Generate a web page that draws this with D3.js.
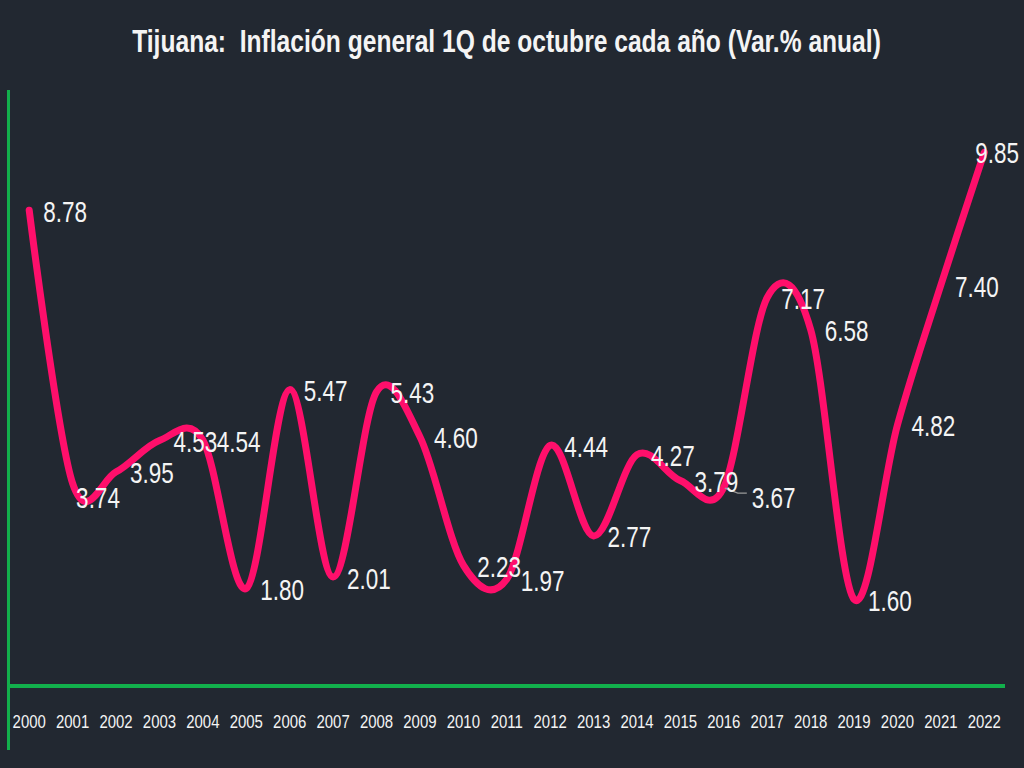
<!DOCTYPE html>
<html>
<head>
<meta charset="utf-8">
<script src="https://cdn.jsdelivr.net/npm/d3@7"></script>
<style>
  html, body { margin: 0; padding: 0; background: #222831; }
  svg { display: block; }
  text { font-family: "Liberation Sans", Arial, sans-serif; fill: #f4f4f4; white-space: pre; }
</style>
</head>
<body>
<svg id="chart" width="1024" height="768"></svg>
<script>
const years = ["2000","2001","2002","2003","2004","2005","2006","2007","2008","2009","2010","2011",
               "2012","2013","2014","2015","2016","2017","2018","2019","2020","2021","2022"];
const inflation = [8.78, 3.74, 3.95, 4.53, 4.54, 1.80, 5.47, 2.01, 5.43, 4.60, 2.23, 1.97,
                   4.44, 2.77, 4.27, 3.79, 3.67, 7.17, 6.58, 1.60, 4.82, 7.40, 9.85];
const labelText = inflation.map(v => v.toFixed(2));
const titleText = "Tijuana:  Inflación general 1Q de octubre cada año (Var.% anual)";
const yDomain = [0, 11];

const W = 1024, H = 768;
const svg = d3.select("#chart");
svg.append("rect").attr("width", W).attr("height", H).attr("fill", "#222831");

const x = d3.scaleBand().domain(years).range([7.5, 1006]).padding(0);
const y = d3.scaleLinear().domain(yDomain).range([686, 90]);
const cx = d => x(d) + x.bandwidth() / 2;

// Title, horizontally condensed to the original's width
const title = svg.append("text")
  .attr("font-size", 32).attr("font-weight", "bold")
  .attr("text-anchor", "middle")
  .text(titleText);
const natural = title.node().getComputedTextLength();
const sx = Math.min(1, 749 / natural);
title.attr("transform", `translate(506.5,52) scale(${sx},1)`);

// Axes lines (green)
svg.append("line").attr("x1", 8.5).attr("x2", 8.5).attr("y1", 90).attr("y2", 750)
  .attr("stroke", "#12b04c").attr("stroke-width", 3);
const xAxis = d3.axisBottom(x).tickSize(0).tickPadding(0);
const gx = svg.append("g").attr("transform", "translate(0,686)").call(xAxis);
gx.select(".domain").attr("d", "M8,0H1005").attr("stroke", "#12b04c").attr("stroke-width", 4);
gx.selectAll(".tick text").each(function() {
  d3.select(this)
    .attr("font-family", "Liberation Sans, Arial, sans-serif").attr("font-size", 18)
    .attr("fill", "#f4f4f4").attr("text-anchor", "middle").attr("y", 0).attr("dy", 0)
    .attr("transform", "translate(0,42) scale(0.83,1)");
});

// Line
const data = years.map((yr, i) => ({ yr, v: inflation[i], label: labelText[i] }));
const line = d3.line().x(d => cx(d.yr)).y(d => y(d.v)).curve(d3.curveCardinal.tension(0));
svg.append("path").datum(data).attr("d", line)
  .attr("fill", "none").attr("stroke", "#ff0f6b").attr("stroke-width", 7)
  .attr("stroke-linecap", "round").attr("stroke-linejoin", "round");

// Leader line for the displaced 2016 label
const p16 = data.find(d => d.yr === "2016");
svg.append("path")
  .attr("d", `M${cx(p16.yr)+1},${y(p16.v)+1}L${cx(p16.yr)+14},${y(p16.v)+6}H${cx(p16.yr)+23}`)
  .attr("fill", "none").attr("stroke", "#9a9a9a").attr("stroke-width", 1.2);

// Data labels (mostly to the right; a few nudged as in the original)
const nudge = { "2001": [3.5, 25], "2016": [28, 21], "2022": [-9, 11] };
svg.append("g").selectAll("text").data(data).join("text")
  .attr("font-size", 30)
  .attr("transform", d => {
    const [dx, dy] = nudge[d.yr] || [14, 11.5];
    return `translate(${cx(d.yr) + dx},${y(d.v) + dy}) scale(0.75,1)`;
  })
  .text(d => d.label);
</script>
</body>
</html>
